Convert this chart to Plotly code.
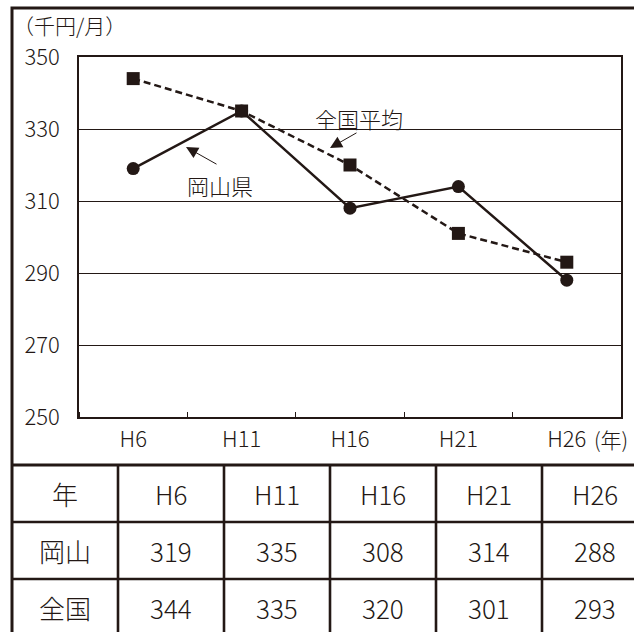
import plotly.graph_objects as go

# ---- data ----
years = ["H6", "H11", "H16", "H21", "H26"]
okayama = [319, 335, 308, 314, 288]
zenkoku = [344, 335, 320, 301, 293]
row_labels = ["年", "岡山", "全国"]
y_ticks = [250, 270, 290, 310, 330, 350]

INK = "#231815"
FONT = "Noto Sans CJK JP"
W, H = 634, 632
L, R, T, B = 79, 621, 57, 417   # plot area in pixels

def px(x):
    return (x - L) / (R - L)

def py(y):
    return (B - y) / (B - T)

xs = list(range(len(years)))

fig = go.Figure()
fig.add_trace(go.Scatter(
    x=xs, y=zenkoku, mode="lines+markers", name="全国平均",
    line=dict(color=INK, width=2.5, dash="7px,4px"),
    marker=dict(symbol="square", size=13, color=INK),
))
fig.add_trace(go.Scatter(
    x=xs, y=okayama, mode="lines+markers", name="岡山県",
    line=dict(color=INK, width=2.5),
    marker=dict(symbol="circle", size=13, color=INK),
))

fig.update_layout(
    width=W, height=H,
    margin=dict(l=L, r=W - R, t=T, b=H - B),
    paper_bgcolor="white", plot_bgcolor="white",
    showlegend=False,
    font=dict(family=FONT, color=INK, size=21, weight=300),
    xaxis=dict(
        range=[-0.5, len(years) - 0.5],
        tickvals=xs, ticktext=years,
        ticks="", showgrid=False,
        showline=True, linecolor=INK, linewidth=1.6, mirror=True,
        tickfont=dict(size=22, family=FONT, color=INK, weight=300),
        ticklabelstandoff=2,
        minor=dict(tick0=0.5, dtick=1, ticks="inside", ticklen=5,
                   tickcolor=INK, tickwidth=1, showgrid=False),
        zeroline=False, fixedrange=True,
    ),
    yaxis=dict(
        range=[250, 350], tickvals=y_ticks,
        ticks="", showgrid=True, gridcolor=INK, gridwidth=1.1,
        showline=True, linecolor=INK, linewidth=1.6, mirror=True,
        tickfont=dict(size=22, family=FONT, color=INK, weight=300),
        ticklabelstandoff=13,
        zeroline=False, fixedrange=True,
    ),
)

shapes = []
# outer frame (right/bottom edges run off the picture)
shapes.append(dict(type="rect", xref="paper", yref="paper",
                   x0=px(12), x1=px(660), y0=py(8), y1=py(660),
                   line=dict(color=INK, width=3)))
# table
col_edges = [12, 118, 224, 330, 436, 542, 648]
row_edges = [465, 522, 579, 636]
shapes.append(dict(type="line", xref="paper", yref="paper",
                   x0=px(12), x1=px(660), y0=py(465), y1=py(465),
                   line=dict(color=INK, width=3)))
for yv in row_edges[1:3]:
    shapes.append(dict(type="line", xref="paper", yref="paper",
                       x0=px(12), x1=px(660), y0=py(yv), y1=py(yv),
                       line=dict(color=INK, width=2.6)))
for xv in col_edges[1:6]:
    shapes.append(dict(type="line", xref="paper", yref="paper",
                       x0=px(xv), x1=px(xv), y0=py(465), y1=py(660),
                       line=dict(color=INK, width=2.6)))
fig.update_layout(shapes=shapes)

ann = []
# unit labels
ann.append(dict(text="（千円/月）", xref="paper", yref="paper",
                x=px(11), y=py(25), xanchor="left", yanchor="middle",
                showarrow=False, font=dict(size=21)))
ann.append(dict(text="(年)", xref="paper", yref="paper",
                x=px(592), y=py(439), xanchor="left", yanchor="middle",
                showarrow=False, font=dict(size=21)))
# series labels with arrows
ann.append(dict(text="全国平均", xref="paper", yref="paper",
                x=px(359), y=py(118), xanchor="center", yanchor="middle",
                showarrow=False, font=dict(size=22)))
ann.append(dict(text="", xref="paper", yref="paper",
                x=px(330), y=py(148), ax=28, ay=-16,
                showarrow=True, arrowhead=2, arrowsize=2.4, arrowwidth=1,
                arrowcolor=INK))
ann.append(dict(text="岡山県", xref="paper", yref="paper",
                x=px(220), y=py(185), xanchor="center", yanchor="middle",
                showarrow=False, font=dict(size=22)))
ann.append(dict(text="", xref="paper", yref="paper",
                x=px(186), y=py(147), ax=32, ay=18,
                showarrow=True, arrowhead=2, arrowsize=2.4, arrowwidth=1,
                arrowcolor=INK))

# table text
rows = [years, [str(v) for v in okayama], [str(v) for v in zenkoku]]
for r, (lab, vals) in enumerate(zip(row_labels, rows)):
    yc = (row_edges[r] + row_edges[r + 1]) / 2
    ann.append(dict(text=lab, xref="paper", yref="paper",
                    x=px((col_edges[0] + col_edges[1]) / 2), y=py(yc),
                    xanchor="center", yanchor="middle", showarrow=False,
                    font=dict(size=26)))
    for c, v in enumerate(vals):
        xc = (col_edges[c + 1] + col_edges[c + 2]) / 2
        ann.append(dict(text=v, xref="paper", yref="paper",
                        x=px(xc), y=py(yc), xanchor="center", yanchor="middle",
                        showarrow=False, font=dict(size=26)))
fig.update_layout(annotations=ann)

fig.write_html("out.html", config=dict(displayModeBar=False),
               post_script="document.body.style.margin='0';")
